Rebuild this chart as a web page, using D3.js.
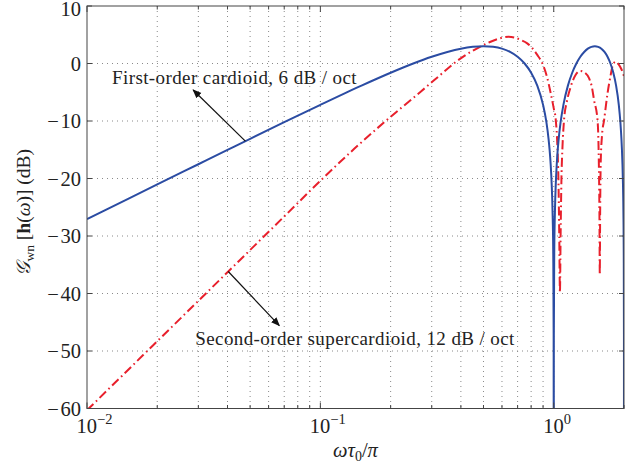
<!DOCTYPE html>
<html>
<head>
<meta charset="utf-8">
<script src="https://cdn.jsdelivr.net/npm/d3@7"></script>
<style>
  html, body { margin: 0; padding: 0; background: #fff; }
  svg { display: block; }
  text { font-family: "Liberation Serif", "DejaVu Serif", serif; fill: #222; }
</style>
</head>
<body>
<svg id="chart" width="638" height="464"></svg>
<script>
// Normalised frequency  ωτ0/π  and white-noise gain (dB)

// First-order cardioid
const cardioidX = [0.01, 0.015, 0.02, 0.03, 0.04, 0.05, 0.07, 0.1, 0.15, 0.2, 0.25, 0.3, 0.35, 0.4, 0.45, 0.5,
  0.55, 0.6, 0.65, 0.7, 0.75, 0.8, 0.85, 0.9, 0.93, 0.95, 0.96, 0.97, 0.98, 0.985, 0.99, 0.995, 0.999, 1.0,
  1.001, 1.005, 1.01, 1.015, 1.02, 1.03, 1.04, 1.05, 1.07, 1.1, 1.15, 1.2, 1.25, 1.3, 1.35, 1.4, 1.45, 1.5,
  1.55, 1.6, 1.65, 1.7, 1.75, 1.8, 1.85, 1.9, 1.93, 1.95, 1.96, 1.97, 1.98, 1.985, 1.99, 1.995, 1.999, 2.0];
const cardioidDb = [-27.05, -23.53, -21.03, -17.52, -15.03, -13.10, -10.21, -7.19, -3.85, -1.61, 0, 1.17, 2.01, 2.58, 2.90, 3.01,
  2.90, 2.58, 2.01, 1.17, 0, -1.61, -3.85, -7.19, -10.21, -13.10, -15.03, -17.52, -21.03, -23.53, -27.05, -33.07, -47.05, -80,
  -47.05, -33.07, -27.05, -23.53, -21.03, -17.52, -15.03, -13.10, -10.21, -7.19, -3.85, -1.61, 0, 1.17, 2.01, 2.58, 2.90, 3.01,
  2.90, 2.58, 2.01, 1.17, 0, -1.61, -3.85, -7.19, -10.21, -13.10, -15.03, -17.52, -21.03, -23.53, -27.05, -33.07, -47.05, -80];

// Second-order supercardioid
const superX = [0.01, 0.02, 0.04, 0.07, 0.1, 0.14, 0.193, 0.23, 0.269, 0.32, 0.373, 0.42, 0.47, 0.53, 0.59, 0.64,
  0.68, 0.722, 0.77, 0.81, 0.85, 0.894, 0.935, 0.971, 1.0, 1.02, 1.037, 1.047, 1.056, 1.063, 1.07, 1.079, 1.09,
  1.107, 1.14, 1.183, 1.24, 1.30, 1.36, 1.418, 1.455, 1.489, 1.54, 1.56, 1.57, 1.575, 1.58, 1.59, 1.61, 1.644,
  1.70, 1.75, 1.79, 1.84, 1.9, 1.95, 2.0];
const superDb = [-60.3, -48.3, -36.3, -26.6, -20.4, -14.8, -9.8, -7.2, -4.9, -2.3, 0.0, 1.5, 2.65, 3.7, 4.4, 4.65,
  4.5, 4.1, 3.5, 2.65, 1.5, 0.0, -2.3, -5.2, -7.8, -9.8, -14.5, -20, -30, -39.8, -30, -20, -14.5,
  -9.8, -6.5, -4.0, -2.0, -1.3, -1.6, -2.6, -4.0, -6.4, -9.8, -17, -27, -36.8, -27, -17, -12.5, -9.8,
  -5.2, -2.2, -0.3, 0.3, -0.2, -1.0, -2.2];

// Axis ticks
const yTicks = [-60, -50, -40, -30, -20, -10, 0, 10];
const xMajor = [0.01, 0.1, 1];
const xMajorExp = ["\u22122", "\u22121", "0"];
const xMinor = [0.02, 0.03, 0.04, 0.05, 0.06, 0.07, 0.08, 0.09, 0.2, 0.3, 0.4, 0.5, 0.6, 0.7, 0.8, 0.9, 2];

// Annotations: text anchor, arrow tail on the curve, arrow head
const noteFirst = { text: "First-order cardioid, 6 dB / oct", tx: 0.0128, ty: -3.6, ax: 0.0477, hx: 0.0285, hy: -4.6 };
const noteSecond = { text: "Second-order supercardioid, 12 dB / oct", tx: 0.0291, ty: -49.0, ax: 0.0403, hx: 0.0667, hy: -45.6 };

const svg = d3.select("#chart");
const L = 87, R = 624, T = 6, B = 408.5;

const x = d3.scaleLog().domain([0.01, 2]).range([L, R]);
const y = d3.scaleLinear().domain([-60, 10]).range([B, T]);

// Grid
const grid = svg.append("g").attr("stroke", "#8a8a8a").attr("stroke-width", 1).attr("stroke-dasharray", "1,4");
xMajor.concat(xMinor).filter(v => v > 0.01 && v < 2).forEach(v => {
  grid.append("line").attr("x1", x(v)).attr("x2", x(v)).attr("y1", T).attr("y2", B);
});
yTicks.filter(v => v > -60 && v < 10).forEach(v => {
  grid.append("line").attr("x1", L).attr("x2", R).attr("y1", y(v)).attr("y2", y(v));
});

// Curves
svg.append("clipPath").attr("id", "plotArea")
  .append("rect").attr("x", L).attr("y", T).attr("width", R - L).attr("height", B - T);

const line = d3.line().x(d => x(d[0])).y(d => y(d[1])).curve(d3.curveMonotoneX);

svg.append("path")
  .datum(d3.zip(superX, superDb))
  .attr("clip-path", "url(#plotArea)")
  .attr("fill", "none")
  .attr("stroke", "#e8202c")
  .attr("stroke-width", 2)
  .attr("stroke-dasharray", "9,3.5,1.6,3.5")
  .attr("d", line);

svg.append("path")
  .datum(d3.zip(cardioidX, cardioidDb))
  .attr("clip-path", "url(#plotArea)")
  .attr("fill", "none")
  .attr("stroke", "#2b4ca3")
  .attr("stroke-width", 2)
  .attr("d", line);

// Frame and inward ticks
const frame = svg.append("g").attr("stroke", "#444").attr("stroke-width", 1).attr("fill", "none");
frame.append("rect").attr("x", L).attr("y", T).attr("width", R - L).attr("height", B - T);
yTicks.forEach(v => {
  frame.append("line").attr("x1", L).attr("x2", L + 5).attr("y1", y(v)).attr("y2", y(v));
  frame.append("line").attr("x1", R).attr("x2", R - 5).attr("y1", y(v)).attr("y2", y(v));
});
xMajor.forEach(v => {
  frame.append("line").attr("x1", x(v)).attr("x2", x(v)).attr("y1", B).attr("y2", B - 6);
  frame.append("line").attr("x1", x(v)).attr("x2", x(v)).attr("y1", T).attr("y2", T + 6);
});
xMinor.forEach(v => {
  frame.append("line").attr("x1", x(v)).attr("x2", x(v)).attr("y1", B).attr("y2", B - 3.5);
  frame.append("line").attr("x1", x(v)).attr("x2", x(v)).attr("y1", T).attr("y2", T + 3.5);
});

// Y tick labels (top one nudged down to stay inside the page)
svg.append("g").selectAll("text").data(yTicks).join("text")
  .attr("x", L - 6)
  .attr("y", d => y(d) + (d === 10 ? 3 : 0))
  .attr("dy", "0.35em")
  .attr("text-anchor", "end")
  .attr("font-size", 20.5)
  .text(d => d < 0 ? "\u2212\u200A" + Math.abs(d) : String(d));

// X tick labels: 10 with superscript exponent
xMajor.forEach((v, i) => {
  const t = svg.append("text").attr("x", x(v) - 10.5).attr("y", 433).attr("font-size", 20.5);
  t.append("tspan").text("10");
  t.append("tspan").attr("font-size", 14.5).attr("dy", -9).text(xMajorExp[i]);
});

// Axis titles
const xt = svg.append("text").attr("x", (L + R) / 2).attr("y", 457).attr("text-anchor", "middle").attr("font-size", 20.5);
xt.append("tspan").attr("font-style", "italic").text("ωτ");
xt.append("tspan").attr("font-size", 14).attr("dy", 4).text("0");
xt.append("tspan").attr("dy", -4).text("/");
xt.append("tspan").attr("font-style", "italic").text("π");

const yt = svg.append("text")
  .attr("transform", `translate(30,${(T + B) / 2 + 5}) rotate(-90)`)
  .attr("text-anchor", "middle").attr("font-size", 19.5);
yt.append("tspan").attr("font-style", "italic").text("\uD835\uDCA2");
yt.append("tspan").attr("font-size", 13.5).attr("dy", 4).text("wn");
yt.append("tspan").attr("dy", -4).text(" [");
yt.append("tspan").attr("font-weight", "bold").text("h");
yt.append("tspan").text("(");
yt.append("tspan").attr("font-style", "italic").text("ω");
yt.append("tspan").text(")] (dB)");

// Annotations with arrows
svg.append("defs").append("marker")
  .attr("id", "arrowHead").attr("viewBox", "0 0 10 10")
  .attr("refX", 9).attr("refY", 5)
  .attr("markerWidth", 9).attr("markerHeight", 9)
  .attr("markerUnits", "userSpaceOnUse")
  .attr("orient", "auto")
  .append("path").attr("d", "M0,1 L10,5 L0,9 Z").attr("fill", "#111");

// Value of a curve at frequency v (interpolated on the log axis)
const curveAt = (xs, ys) => v => {
  const i = d3.bisectLeft(xs, v);
  const t = (Math.log(v) - Math.log(xs[i - 1])) / (Math.log(xs[i]) - Math.log(xs[i - 1]));
  return ys[i - 1] + t * (ys[i] - ys[i - 1]);
};

[[noteFirst, curveAt(cardioidX, cardioidDb)], [noteSecond, curveAt(superX, superDb)]].forEach(([n, f]) => {
  svg.append("line")
    .attr("x1", x(n.ax)).attr("y1", y(f(n.ax)))
    .attr("x2", x(n.hx)).attr("y2", y(n.hy))
    .attr("stroke", "#111").attr("stroke-width", 1.2)
    .attr("marker-end", "url(#arrowHead)");
  svg.append("text").attr("x", x(n.tx)).attr("y", y(n.ty))
    .attr("font-size", 19).attr("letter-spacing", 0.4).text(n.text);
});
</script>
</body>
</html>
